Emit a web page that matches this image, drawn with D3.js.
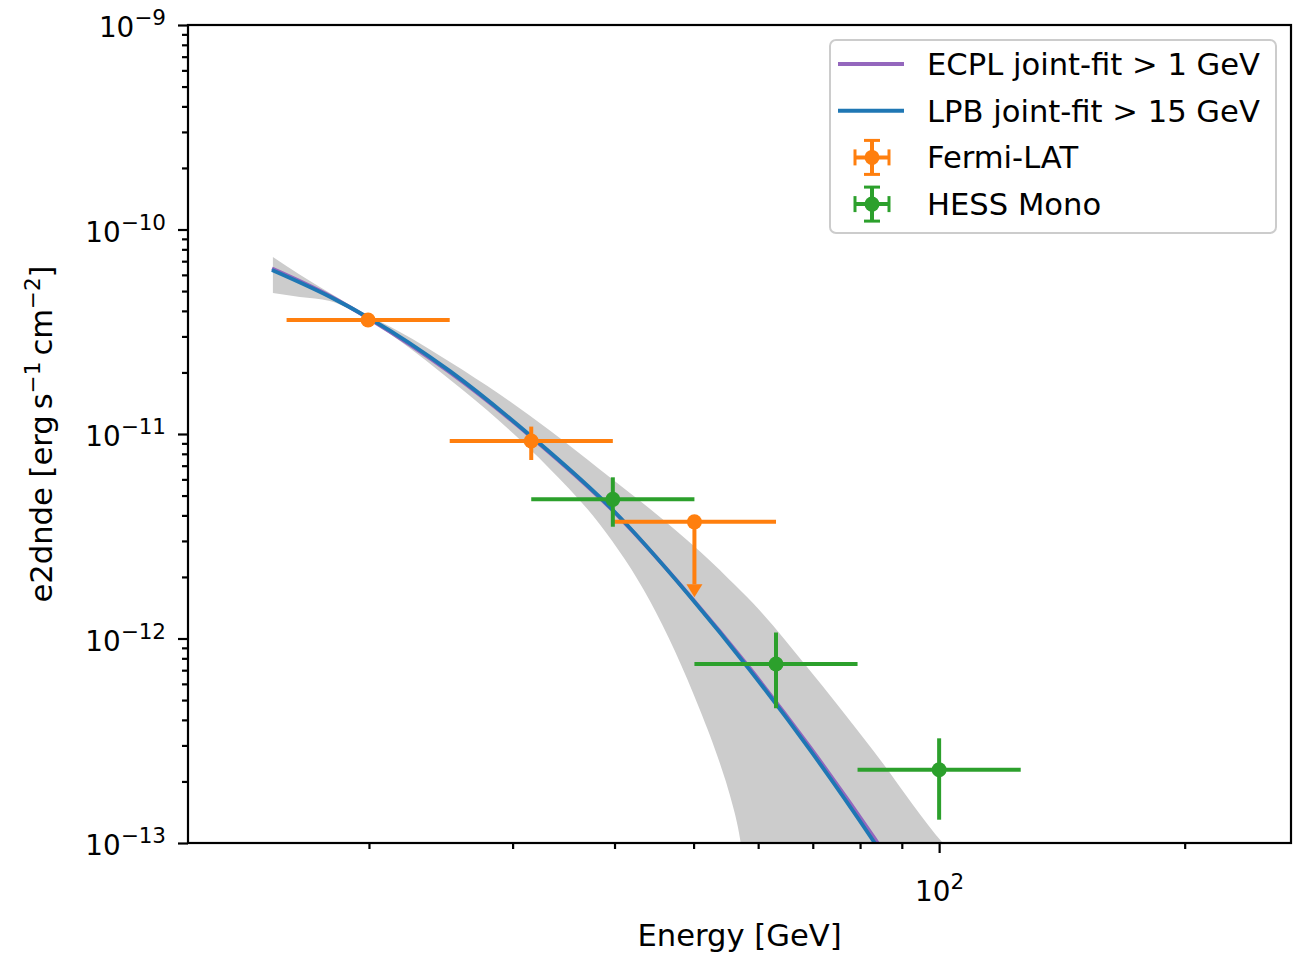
<!DOCTYPE html>
<html>
<head>
<meta charset="utf-8">
<script src="https://cdn.jsdelivr.net/npm/d3@7"></script>
<style>
body{margin:0;background:#fff}
svg text{font-family:"DejaVu Sans",sans-serif}
</style>
</head>
<body>
<div id="chart"></div>
<script>
// model curves (energy in GeV, e2dnde in erg s-1 cm-2)
const curveEnergy = [15.21, 17.91, 20.06, 25.14, 31.59, 39.81, 49.47, 58.61, 69.42, 83.39, 89.5]
const lpbFlux  = [6.34e-11, 4.69e-11, 3.67e-11, 2.03e-11, 9.78e-12, 4.25e-12, 1.61e-12, 7.01e-13, 2.86e-13, 1.0e-13, 6.53e-14]
const ecplFlux = [6.44e-11, 4.73e-11, 3.64e-11, 2.00e-11, 9.70e-12, 4.22e-12, 1.62e-12, 7.15e-13, 2.95e-13, 1.05e-13, 6.9e-14]

// error band of the fit
const bandEnergy = [15.25, 16.46, 17.91, 19.77, 21.83, 25.14, 28.95, 33.33, 38.38, 44.19, 50.88, 53.84, 55.38, 57.12, 59.11, 68.84, 82.92, 101.05, 106.0]
const bandHigh = [7.34e-11, 6.01e-11, 4.89e-11, 3.88e-11, 3.15e-11, 2.25e-11, 1.56e-11, 1.04e-11, 6.71e-12, 4.31e-12, 2.67e-12, 2.16e-12, 1.93e-12, 1.71e-12, 1.49e-12, 7.28e-13, 2.85e-13, 1.0e-13, 8.08e-14]
const bandLow  = [4.89e-11, 4.68e-11, 4.47e-11, 3.70e-11, 2.85e-11, 1.84e-11, 1.15e-11, 6.75e-12, 3.61e-12, 1.53e-12, 4.50e-13, 2.46e-13, 1.72e-13, 1.0e-13, 3e-14, 1e-14, 1e-14, 1e-14, 1e-14]

// flux points
const fermiEnergy = [19.95, 31.62, 50.12]
const fermiEmin   = [15.85, 25.12, 39.81]
const fermiEmax   = [25.12, 39.81, 63.10]
const fermiFlux   = [3.61e-11, 9.24e-12, 3.72e-12]
const fermiLo     = [3.47e-11, 7.46e-12, 1.84e-12]
const fermiHi     = [3.76e-11, 1.087e-11, 3.72e-12]
const fermiUL     = [false, false, true]

const hessEnergy = [39.81, 63.10, 100.0]
const hessEmin   = [31.62, 50.12, 79.43]
const hessEmax   = [50.12, 79.43, 125.9]
const hessFlux   = [4.79e-12, 7.50e-13, 2.28e-13]
const hessLo     = [3.52e-12, 4.56e-13, 1.30e-13]
const hessHi     = [6.14e-12, 1.07e-12, 3.25e-13]
const hessUL     = [false, false, false]

const xDomain = [12, 270]
const yDomain = [1e-13, 1e-9]
const xTicks = [100], xTickExp = ["2"]
const xMinor = [20, 30, 40, 50, 60, 70, 80, 90, 200]
const yTicks = [1e-13, 1e-12, 1e-11, 1e-10, 1e-9]
const yTickExp = ["\u221213", "\u221212", "\u221211", "\u221210", "\u22129"]

const legendLabels = ["ECPL joint-fit > 1 GeV", "LPB joint-fit > 15 GeV", "Fermi-LAT", "HESS Mono"]
const colors = {ecpl: "#9467bd", lpb: "#1f77b4", fermi: "#ff7f0e", hess: "#2ca02c"}

function points(E, emin, emax, F, lo, hi, ul){
  return E.map((d, i) => ({e: d, emin: emin[i], emax: emax[i], f: F[i], lo: lo[i], hi: hi[i], ul: ul[i]}))
}

function render(){
  let width = 1302,
      height = 953,
      margin = {top: 25, left: 188, right: 11, bottom: 110},
      innerWidth = width - margin.left - margin.right,
      innerHeight = height - margin.top - margin.bottom

  let xScale = d3.scaleLog().domain(xDomain).range([0, innerWidth])
  let yScale = d3.scaleLog().domain(yDomain).range([innerHeight, 0])

  let svg = d3.select("#chart").append("svg")
    .attr("width", width)
    .attr("height", height)
  svg.append("rect").attr("width", width).attr("height", height).attr("fill", "#fff")

  let g = svg.append("g").attr("transform", `translate(${margin.left},${margin.top})`)

  g.append("clipPath").attr("id", "plotclip")
    .append("rect").attr("width", innerWidth).attr("height", innerHeight)

  let plot = g.append("g").attr("clip-path", "url(#plotclip)")

  // band
  let band = bandEnergy.map((d, i) => ({e: d, lo: bandLow[i], hi: bandHigh[i]}))
  let area = d3.area()
    .x(d => xScale(d.e))
    .y0(d => yScale(d.lo))
    .y1(d => yScale(d.hi))
    .curve(d3.curveMonotoneX)
  plot.append("path").attr("d", area(band)).attr("fill", "#cccccc")

  // model lines
  let line = d3.line()
    .x(d => xScale(d[0]))
    .y(d => yScale(d[1]))
    .curve(d3.curveMonotoneX)
  plot.append("path").attr("d", line(d3.zip(curveEnergy, ecplFlux)))
    .attr("fill", "none").attr("stroke", colors.ecpl).attr("stroke-width", 3.8)
  plot.append("path").attr("d", line(d3.zip(curveEnergy, lpbFlux)))
    .attr("fill", "none").attr("stroke", colors.lpb).attr("stroke-width", 3.8)

  // flux points
  function drawPoints(data, color){
    let grp = plot.append("g")
    let pt = grp.selectAll("g").data(data).enter().append("g")
    pt.append("line")
      .attr("x1", d => xScale(d.emin)).attr("x2", d => xScale(d.emax))
      .attr("y1", d => yScale(d.f)).attr("y2", d => yScale(d.f))
      .attr("stroke", color).attr("stroke-width", 4)
    pt.append("line")
      .attr("x1", d => xScale(d.e)).attr("x2", d => xScale(d.e))
      .attr("y1", d => yScale(d.lo)).attr("y2", d => yScale(d.hi))
      .attr("stroke", color).attr("stroke-width", 4)
    pt.filter(d => d.ul).append("path")
      .attr("d", d => {
        let cx = xScale(d.e), cy = yScale(d.lo)
        return `M${cx - 8},${cy}L${cx + 8},${cy}L${cx},${cy + 13}Z`
      })
      .attr("fill", color)
    pt.append("circle")
      .attr("cx", d => xScale(d.e)).attr("cy", d => yScale(d.f))
      .attr("r", 7.5).attr("fill", color)
  }
  drawPoints(points(fermiEnergy, fermiEmin, fermiEmax, fermiFlux, fermiLo, fermiHi, fermiUL), colors.fermi)
  drawPoints(points(hessEnergy, hessEmin, hessEmax, hessFlux, hessLo, hessHi, hessUL), colors.hess)

  // axes
  let yMinor = yScale.ticks().filter(d => Math.abs(Math.log10(d) - Math.round(Math.log10(d))) > 1e-6)
  let yMinorGroup = g.append("g").call(d3.axisLeft(yScale).tickValues(yMinor).tickSize(6).tickFormat(""))
  let xMinorGroup = g.append("g").attr("transform", `translate(0,${innerHeight})`)
    .call(d3.axisBottom(xScale).tickValues(xMinor).tickSize(6).tickFormat(""))
  let yGroup = g.append("g").call(d3.axisLeft(yScale).tickValues(yTicks).tickSize(10).tickPadding(12).tickFormat(() => "10"))
  let xGroup = g.append("g").attr("transform", `translate(0,${innerHeight})`)
    .call(d3.axisBottom(xScale).tickValues(xTicks).tickSize(10).tickFormat(() => "10"))

  ;[yMinorGroup, xMinorGroup, yGroup, xGroup].forEach(a => {
    a.select(".domain").remove()
    a.selectAll(".tick line").attr("stroke", "#000").attr("stroke-width", 2.2)
  })

  yGroup.selectAll(".tick text")
    .attr("font-size", 27.8).attr("fill", "#000").attr("dy", "0.42em")
    .each(function(d, i){
      d3.select(this).append("tspan").attr("dy", -12).attr("font-size", 21.5).text(yTickExp[i])
    })
  xGroup.selectAll(".tick text")
    .attr("font-size", 27.8).attr("fill", "#000").attr("y", 58).attr("dy", 0)
    .each(function(d, i){
      d3.select(this).append("tspan").attr("dy", -12).attr("font-size", 21.5).text(xTickExp[i])
    })

  g.append("rect").attr("width", innerWidth).attr("height", innerHeight)
    .attr("fill", "none").attr("stroke", "#000").attr("stroke-width", 2.2)

  // axis labels
  g.append("text").attr("x", innerWidth / 2).attr("y", innerHeight + 103)
    .attr("text-anchor", "middle").attr("font-size", 30.6).attr("fill", "#000")
    .text("Energy [GeV]")
  let yl = svg.append("text")
    .attr("transform", `translate(52,${margin.top + innerHeight / 2}) rotate(-90)`)
    .attr("text-anchor", "middle").attr("font-size", 30.6).attr("fill", "#000")
  yl.append("tspan").text("e2dnde [erg\u2009s")
  yl.append("tspan").attr("dy", -12).attr("font-size", 21.4).text("\u22121")
  yl.append("tspan").attr("dy", 12).text("\u2009cm")
  yl.append("tspan").attr("dy", -12).attr("font-size", 21.4).text("\u22122")
  yl.append("tspan").attr("dy", 12).text("]")

  // legend
  let leg = svg.append("g").attr("transform", "translate(830,40)")
  leg.append("rect").attr("width", 446).attr("height", 193).attr("rx", 6)
    .attr("fill", "#fff").attr("fill-opacity", 0.8).attr("stroke", "#cccccc").attr("stroke-width", 2)
  let rowColors = [colors.ecpl, colors.lpb, colors.fermi, colors.hess]
  let rows = leg.selectAll("g.row").data(legendLabels).enter().append("g")
    .attr("class", "row")
    .attr("transform", (d, i) => `translate(0,${24 + i * 46.7})`)
  rows.append("text").attr("x", 97).attr("y", 11).attr("font-size", 30.6).attr("fill", "#000").text(d => d)
  rows.filter((d, i) => i < 2).append("line")
    .attr("x1", 8).attr("x2", 74).attr("y1", 0).attr("y2", 0)
    .attr("stroke", (d, i) => rowColors[i]).attr("stroke-width", 4)
  rows.filter((d, i) => i >= 2).each(function(d, i){
    let r = d3.select(this), c = rowColors[i + 2], cx = 42
    r.append("line").attr("x1", cx - 17).attr("x2", cx + 17).attr("y1", 0).attr("y2", 0).attr("stroke", c).attr("stroke-width", 4)
    r.append("line").attr("x1", cx).attr("x2", cx).attr("y1", -17).attr("y2", 17).attr("stroke", c).attr("stroke-width", 4)
    ;[-17, 17].forEach(o => {
      r.append("line").attr("x1", cx + o).attr("x2", cx + o).attr("y1", -8).attr("y2", 8).attr("stroke", c).attr("stroke-width", 3)
      r.append("line").attr("x1", cx - 8).attr("x2", cx + 8).attr("y1", o).attr("y2", o).attr("stroke", c).attr("stroke-width", 3)
    })
    r.append("circle").attr("cx", cx).attr("cy", 0).attr("r", 7.5).attr("fill", c)
  })
}

render()
</script>
</body>
</html>
